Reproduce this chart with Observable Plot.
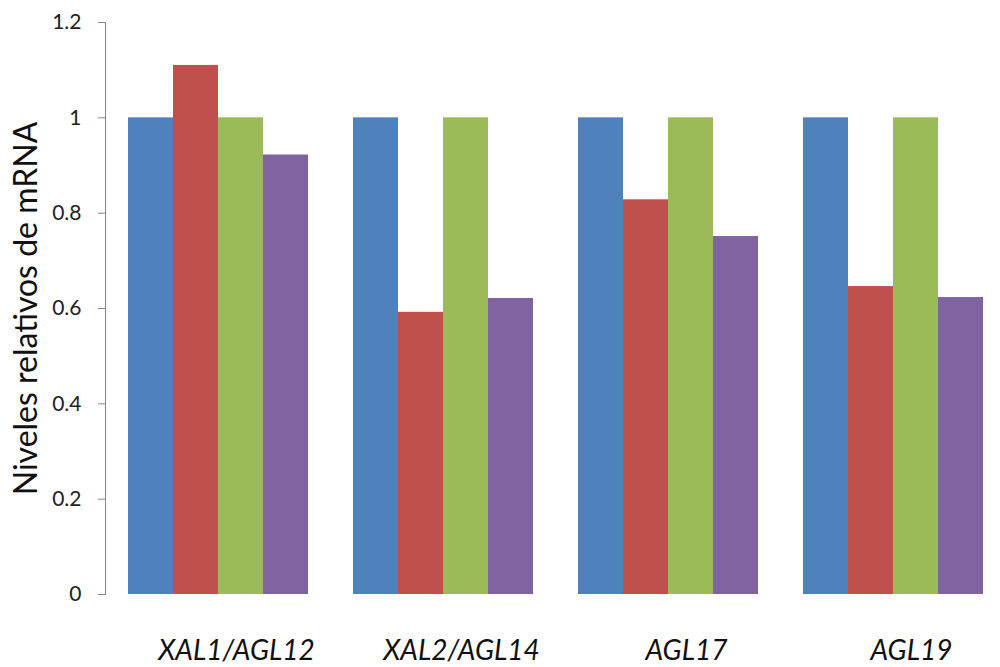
<!DOCTYPE html>
<html>
<head>
<meta charset="utf-8">
<script src="https://cdn.jsdelivr.net/npm/d3@7"></script>
<script src="https://cdn.jsdelivr.net/npm/@observablehq/plot@0.6"></script>
<style>
  body { margin: 0; background: #fff; }
  #chart svg { overflow: visible; }
</style>
</head>
<body>
<div id="chart"></div>
<script>
// Genes on the category axis
const genes = ["XAL1/AGL12", "XAL2/AGL14", "AGL17", "AGL19"];
// Four series per gene (relative mRNA levels)
const seriesNames = ["Serie 1", "Serie 2", "Serie 3", "Serie 4"];
const serie1 = [1, 1, 1, 1];
const serie2 = [1.11, 0.592, 0.828, 0.646];
const serie3 = [1, 1, 1, 1];
const serie4 = [0.922, 0.621, 0.751, 0.623];
const yTicks = [0, 0.2, 0.4, 0.6, 0.8, 1, 1.2];
const seriesColors = ["#4F81BD", "#C0504D", "#9BBB59", "#8064A2"];

const allSeries = [serie1, serie2, serie3, serie4];
const rows = allSeries.flatMap((vals, i) =>
  genes.map((g, j) => ({gene: g, series: seriesNames[i], idx: i, value: vals[j]}))
);

// Band layout: groups separated by a gap, bars inside a group touch each other
const xRange = [105.5, 1005.5];
const padInner = 0.2, padOuter = 0.1;
const step = (xRange[1] - xRange[0]) / (genes.length - padInner + 2 * padOuter);
const barW = step * (1 - padInner) / seriesNames.length;

const font = "Lato, 'Open Sans', sans-serif";

const chart = Plot.plot({
  width: 1000,
  height: 667,
  marginLeft: 105,
  marginRight: 0,
  marginTop: 22,
  marginBottom: 73,
  style: {fontFamily: font, color: "#222", background: "#fff"},
  x: {domain: genes, range: xRange, paddingInner: padInner, paddingOuter: padOuter, axis: null},
  y: {domain: [0, 1.2], axis: null},
  color: {domain: seriesNames, range: seriesColors},
  marks: [
    ...seriesNames.map((name, i) =>
      Plot.barY(rows.filter(d => d.idx === i), {
        x: "gene",
        y: "value",
        fill: "series",
        insetLeft: i * barW,
        insetRight: (seriesNames.length - 1 - i) * barW
      })
    ),
    Plot.frame({anchor: "left", stroke: "#868686"}),
    Plot.axisY(yTicks, {
      tickSize: 7,
      tickPadding: 17,
      stroke: "#868686",
      fill: "#222",
      fontSize: 21,
      tickFormat: d => String(d),
      label: null
    }),
    Plot.axisX({
      tickSize: 0,
      tickPadding: 46,
      fontSize: 28,
      fontStyle: "italic",
      fill: "#111",
      dx: 18,
      label: null
    }),
    Plot.text(["Niveles relativos de mRNA"], {
      frameAnchor: "left",
      textAnchor: "middle",
      rotate: -90,
      dx: -79,
      fontSize: 32,
      fill: "#111"
    })
  ]
});

document.getElementById("chart").appendChild(chart);
</script>
</body>
</html>
